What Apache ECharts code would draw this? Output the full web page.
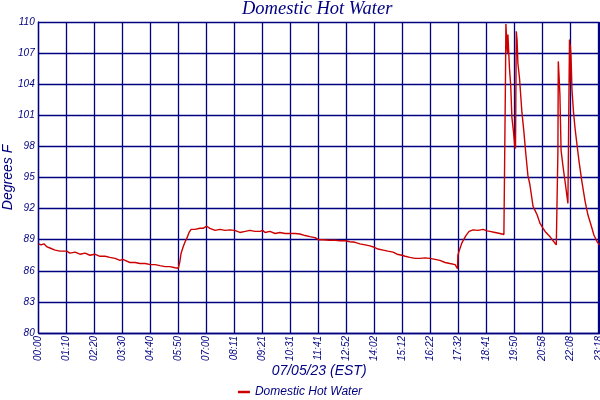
<!DOCTYPE html>
<html>
<head>
<meta charset="utf-8">
<script src="https://cdn.jsdelivr.net/npm/echarts@6/dist/echarts.min.js"></script>
<style>html,body{margin:0;padding:0;background:#fff}#c{width:600px;height:400px}</style>
</head>
<body>
<div id="c"></div>
<script>
// x positions are minutes-like sample index (70 per tick)
const xTickLabels = ["00:00","01:10","02:20","03:30","04:40","05:50","07:00","08:11","09:21","10:31","11:41","12:52","14:02","15:12","16:22","17:32","18:41","19:50","20:58","22:08","23:16"];
const xEndLabel = "23:18";
const sampleX = [0,6,13,21,28,41,53,70,78,91,103,116,128,140,153,166,178,191,203,210,216,228,241,253,266,280,291,303,316,328,341,349,351,353,356,361,366,371,376,381,391,403,411,420,428,441,453,466,478,490,503,516,528,541,553,560,566,578,591,603,616,630,641,653,666,678,691,699,711,728,741,753,767,778,791,803,816,828,837,848,861,873,886,896,908,916,928,941,953,966,978,991,1003,1016,1028,1041,1047,1048,1051,1058,1068,1076,1086,1098,1111,1121,1128,1141,1153,1163,1166,1167,1168,1171,1172,1173,1177,1180,1183,1187,1190,1192,1194,1196,1198,1202,1208,1213,1218,1223,1228,1236,1241,1246,1253,1261,1266,1273,1278,1286,1294,1297,1298,1299,1301,1303,1306,1311,1317,1323,1326,1327,1328,1329,1331,1333,1337,1341,1345,1351,1358,1366,1373,1381,1388,1396,1402];
const tempF = [88.6,88.5,88.6,88.3,88.2,88.0,87.9,87.9,87.7,87.8,87.6,87.7,87.5,87.6,87.4,87.4,87.3,87.2,87.0,87.1,87.0,86.8,86.8,86.7,86.7,86.6,86.6,86.5,86.4,86.4,86.3,86.25,86.3,86.9,87.7,88.3,88.8,89.2,89.7,90.0,90.0,90.1,90.1,90.3,90.1,89.9,90.0,89.9,89.95,89.9,89.7,89.8,89.9,89.8,89.8,89.9,89.7,89.8,89.6,89.7,89.6,89.6,89.6,89.55,89.4,89.3,89.2,89.0,89.0,88.95,88.95,88.9,88.9,88.8,88.75,88.6,88.5,88.4,88.3,88.1,88.0,87.9,87.8,87.6,87.5,87.4,87.3,87.2,87.2,87.25,87.2,87.1,87.0,86.8,86.7,86.6,86.2,87.5,87.9,88.7,89.4,89.8,89.95,89.9,90.0,89.85,89.8,89.7,89.6,89.5,89.45,104.8,109.8,107.5,107.0,108.8,105.5,103.9,100.8,99.4,98.1,97.8,109.1,108.2,106.0,104.6,101.3,99.4,97.2,95.2,94.3,92.2,91.8,91.4,90.6,90.1,89.8,89.5,89.3,88.9,88.5,88.6,97.5,106.2,104.7,103.0,97.6,96.0,94.3,92.5,92.4,108.3,104.2,107.8,106.5,103.6,101.3,99.7,98.4,96.5,94.6,92.7,91.4,90.4,89.45,88.8,88.5];
const seriesName = "Domestic Hot Water";

const navy = '#000080';
const chart = echarts.init(document.getElementById('c'));
chart.setOption({
  animation: false,
  backgroundColor: '#fff',
  title: {
    text: 'Domestic Hot Water', left: 242, top: 0, padding: [0,0,0,0],
    textStyle: {fontFamily: 'Liberation Serif', fontStyle: 'italic', fontWeight: 'normal', fontSize: 18.5, color: navy}
  },
  legend: {
    top: 386, left: 'center', icon: 'rect', itemWidth: 12, itemHeight: 2.5, itemGap: 4, padding: 0,
    textStyle: {fontFamily: 'Liberation Sans', fontStyle: 'italic', fontSize: 12, color: navy},
    data: [seriesName]
  },
  grid: {left: 38.7, right: 0.5, top: 22, bottom: 67, containLabel: false, outerBoundsMode: 'none'},
  xAxis: {
    type: 'value', min: 0, max: 1402, interval: 70,
    name: '07/05/23 (EST)', nameLocation: 'middle', nameGap: 31, nameMoveOverlap: false,
    nameTextStyle: {fontFamily: 'Liberation Sans', fontStyle: 'italic', fontSize: 14, color: navy},
    axisLine: {show: true, lineStyle: {color: navy, width: 1.3}},
    axisTick: {show: false},
    splitLine: {show: true, lineStyle: {color: navy, width: 1.3}},
    axisLabel: {
      rotate: 90, margin: 3, fontFamily: 'Liberation Sans', fontStyle: 'italic', fontSize: 10, color: navy,
      showMaxLabel: true, showMinLabel: true, hideOverlap: false,
      formatter: function (v) {
        const i = Math.round(v / 70);
        if (Math.abs(v - i * 70) < 0.01 && i < xTickLabels.length) return xTickLabels[i];
        return xEndLabel;
      }
    }
  },
  yAxis: {
    type: 'value', min: 80, max: 110, interval: 3,
    name: 'Degrees F', nameLocation: 'middle', nameGap: 24, nameMoveOverlap: false,
    nameTextStyle: {fontFamily: 'Liberation Sans', fontStyle: 'italic', fontSize: 14, color: navy},
    axisLine: {show: true, lineStyle: {color: navy, width: 1.3}},
    axisTick: {show: false},
    splitLine: {show: true, lineStyle: {color: navy, width: 1.3}},
    axisLabel: {margin: 4, fontFamily: 'Liberation Sans', fontStyle: 'italic', fontSize: 10, color: navy}
  },
  series: [{
    name: seriesName, type: 'line', showSymbol: false, symbol: 'none',
    data: sampleX.map((x, i) => [x, tempF[i]]),
    lineStyle: {color: '#cc0000', width: 1.4},
    itemStyle: {color: '#cc0000'}
  }]
});
</script>
</body>
</html>
